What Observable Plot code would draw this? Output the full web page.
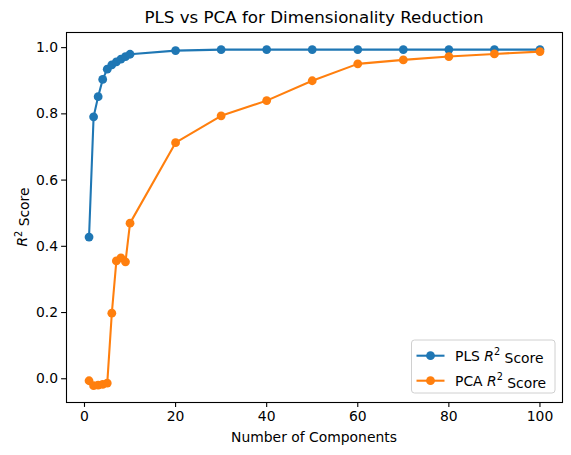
<!DOCTYPE html>
<html>
<head>
<meta charset="utf-8">
<script src="https://cdn.jsdelivr.net/npm/d3@7"></script>
<script src="https://cdn.jsdelivr.net/npm/@observablehq/plot@0.6"></script>
<style>
  html, body { margin: 0; padding: 0; background: #fff; }
  #chart { width: 571px; height: 455px; }
</style>
</head>
<body>
<div id="chart"></div>
<script>
const components = [1, 2, 3, 4, 5, 6, 7, 8, 9, 10, 20, 30, 40, 50, 60, 70, 80, 90, 100];
const plsScores = [0.428, 0.791, 0.852, 0.904, 0.935, 0.948, 0.957, 0.965, 0.973, 0.980, 0.991, 0.994, 0.994, 0.994, 0.994, 0.994, 0.994, 0.994, 0.994];
const pcaScores = [-0.006, -0.021, -0.019, -0.017, -0.013, 0.198, 0.356, 0.365, 0.353, 0.470, 0.713, 0.794, 0.840, 0.900, 0.951, 0.963, 0.973, 0.981, 0.988];
const xTicks = [0, 20, 40, 60, 80, 100];
const yTicks = [0.0, 0.2, 0.4, 0.6, 0.8, 1.0];
const seriesNames = ["PLS", "PCA"];
const seriesColors = ["#1f77b4", "#ff7f0e"];

const rows = [];
components.forEach((c, i) => {
  rows.push({ n: c, r2: plsScores[i], series: "PLS" });
  rows.push({ n: c, r2: pcaScores[i], series: "PCA" });
});

const FONT = "DejaVu Sans, sans-serif";
const W = 571, H = 455;
const mL = 66, mR = 9, mT = 32, mB = 53;

const plot = Plot.plot({
  width: W,
  height: H,
  marginLeft: mL,
  marginRight: mR,
  marginTop: mT,
  marginBottom: mB,
  style: { fontFamily: FONT, fontSize: "13.9px", color: "#000", background: "#fff", overflow: "visible" },
  x: { domain: [-3.95, 104.95], label: null },
  y: { domain: [-0.0717, 1.0457], label: null },
  color: { domain: seriesNames, range: seriesColors },
  marks: [
    Plot.axisX({ ticks: xTicks, tickSize: 4.9, tickPadding: 3.5, tickFormat: d3.format("d"), fontSize: 13.9, label: null, strokeWidth: 1.1 }),
    Plot.axisY({ ticks: yTicks, tickSize: 4.9, tickPadding: 3.5, tickFormat: d3.format(".1f"), fontSize: 13.9, label: null, strokeWidth: 1.1 }),
    Plot.line(rows, { x: "n", y: "r2", z: "series", stroke: "series", strokeWidth: 2.08 }),
    Plot.dot(rows, { x: "n", y: "r2", fill: "series", r: 4.4, stroke: null }),
    Plot.frame({ stroke: "#000", strokeWidth: 1.1 })
  ]
});

document.getElementById("chart").appendChild(plot);

const svg = d3.select(plot);
const cx = mL + (W - mL - mR) / 2;
const cy = mT + (H - mT - mB) / 2;

// Title
svg.append("text")
  .attr("x", cx).attr("y", 17)
  .attr("text-anchor", "middle").attr("dominant-baseline", "central")
  .style("font-family", FONT).style("font-size", "16.7px").attr("fill", "#000")
  .text("PLS vs PCA for Dimensionality Reduction");

// X label
svg.append("text")
  .attr("x", cx).attr("y", 437)
  .attr("text-anchor", "middle").attr("dominant-baseline", "central")
  .style("font-family", FONT).style("font-size", "13.9px").attr("fill", "#000")
  .text("Number of Components");

// Y label with italic R and superscript 2
const yl = svg.append("text")
  .attr("transform", `translate(22,${cy}) rotate(-90)`)
  .attr("text-anchor", "middle").attr("dominant-baseline", "central")
  .style("font-family", FONT).style("font-size", "13.9px").attr("fill", "#000");
yl.append("tspan").style("font-style", "italic").text("R");
yl.append("tspan").attr("dy", "-0.45em").style("font-size", "9.7px").text("2");
yl.append("tspan").attr("dy", "0.45em").text(" Score");

// Legend
const lg = svg.append("g");
lg.append("rect")
  .attr("x", 411.5).attr("y", 340).attr("width", 143.5).attr("height", 53)
  .attr("rx", 3).attr("fill", "#fff").attr("fill-opacity", 0.8)
  .attr("stroke", "#d0d0d0").attr("stroke-width", 1);
seriesNames.forEach((name, i) => {
  const y = 355.7 + i * 25;
  lg.append("line").attr("x1", 416.5).attr("x2", 444.5).attr("y1", y).attr("y2", y)
    .attr("stroke", seriesColors[i]).attr("stroke-width", 2.08);
  lg.append("circle").attr("cx", 430.5).attr("cy", y).attr("r", 4.4).attr("fill", seriesColors[i]);
  const t = lg.append("text").attr("x", 455).attr("y", y)
    .attr("text-anchor", "start").style("text-anchor", "start")
    .attr("dominant-baseline", "central")
    .style("font-family", FONT).style("font-size", "13.9px").attr("fill", "#000");
  t.append("tspan").text(name + " ");
  t.append("tspan").style("font-style", "italic").text("R");
  t.append("tspan").attr("dy", "-0.45em").style("font-size", "9.7px").text("2");
  t.append("tspan").attr("dy", "0.45em").text(" Score");
});
</script>
</body>
</html>
